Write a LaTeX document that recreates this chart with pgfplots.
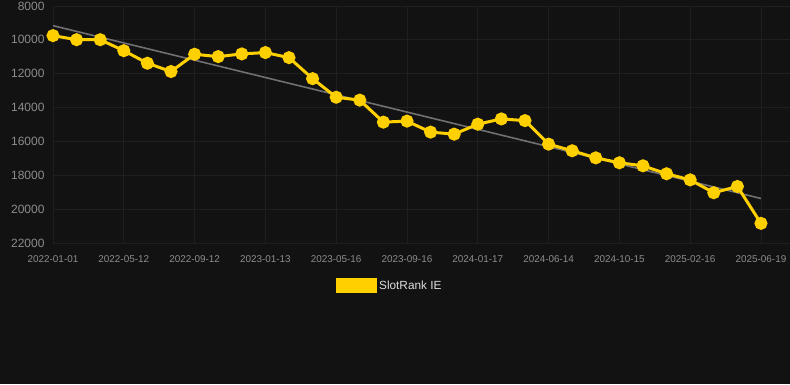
\documentclass[border=0pt]{standalone}
\usepackage{pgfplots}
\pgfplotsset{compat=1.18}
\usepackage{fontspec}
\setmainfont{Liberation Sans}
\definecolor{bg}{HTML}{121212}
\definecolor{gridc}{HTML}{1F1F1F}
\definecolor{tickc}{HTML}{8C8C8C}
\definecolor{lineY}{HTML}{FFD000}
\definecolor{trendc}{HTML}{707070}
\definecolor{legc}{HTML}{DDDDDD}
\begin{document}
\begin{tikzpicture}[x=1pt,y=1pt]
\useasboundingbox (0,0) rectangle (790,384);
\fill[bg] (0,0) rectangle (790,384);
\begin{axis}[
  at={(53pt,141pt)}, anchor=south west,
  scale only axis, width=737pt, height=237pt,
  xmin=0, xmax=31.23, ymin=8000, ymax=22000,
  y dir=reverse,
  axis line style={draw=none},
  tick style={draw=none},
  grid=major, grid style={gridc, line width=0.9pt},
  xtick={0,3,...,30},
  xticklabels={2022-01-01,2022-05-12,2022-09-12,2023-01-13,2023-05-16,2023-09-16,2024-01-17,2024-06-14,2024-10-15,2025-02-16,2025-06-19},
  ytick={8000,10000,...,22000},
  scaled y ticks=false,
  yticklabel={\pgfmathprintnumber[fixed,precision=0,1000 sep={}]{\tick}},
  /pgf/number format/assume math mode=true,
  xticklabel style={font=\fontsize{9.9}{11}\selectfont, text=tickc, yshift=-9pt},
  yticklabel style={font=\fontsize{12}{13}\selectfont, text=tickc, xshift=-5pt},
  legend style={at={(0.457,-0.18)}, anchor=center, draw=none, fill=none,
    text=legc, font=\fontsize{11.8}{13}\selectfont, legend cell align=left,
    /tikz/every even column/.append style={column sep=4pt}},
  legend image code/.code={\fill[lineY] (-1pt,-6pt) rectangle (37pt,6pt);},
  clip=false,
]
\addplot[trendc, line width=1.6pt, forget plot] coordinates {(0,9160) (30,19370)};
\addplot[lineY, line width=3pt, mark=*, mark size=5pt, mark options={solid, fill=lineY, draw=none}] coordinates {
(0,9750) (1,9990) (2,9990) (3,10640) (4,11380) (5,11870) (6,10850) (7,10990) (8,10830) (9,10750)
(10,11050) (11,12290) (12,13390) (13,13560) (14,14860) (15,14800) (16,15450) (17,15570) (18,14980) (19,14670)
(20,14770) (21,16160) (22,16550) (23,16970) (24,17260) (25,17440) (26,17910) (27,18270) (28,19030) (29,18660)
(30,20840)};
\addlegendentry{SlotRank IE}
\end{axis}
\end{tikzpicture}
\end{document}
